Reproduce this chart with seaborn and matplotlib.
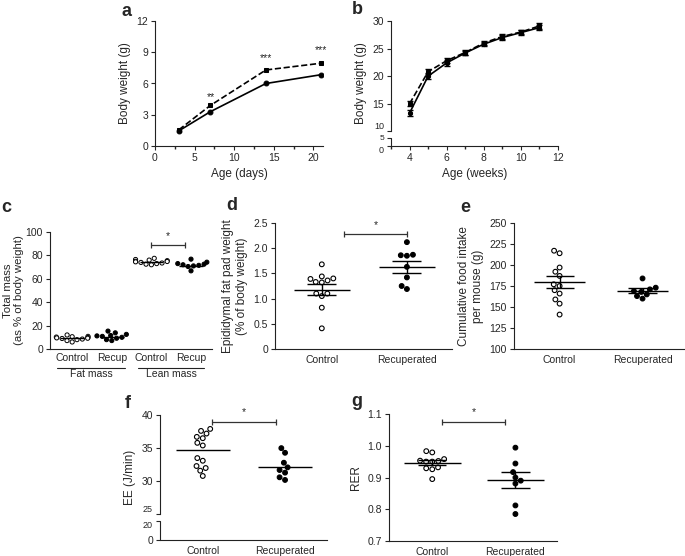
#!/usr/bin/env python3
import matplotlib
matplotlib.use("Agg")
import matplotlib.pyplot as plt
import numpy as np
import pandas as pd
import seaborn as sns
from matplotlib.ticker import FixedLocator, MultipleLocator

# ---- data ----
a_days = [3, 7, 14, 21]
a_control = [1.45, 3.3, 6.0, 6.85]
a_recup = [1.55, 3.9, 7.3, 7.95]

b_weeks = [4, 5, 6, 7, 8, 9, 10, 11]
b_control = [13.3, 20.0, 22.4, 24.2, 25.8, 27.0, 27.9, 28.8]
b_control_sem = [0.5, 0.5, 0.5, 0.4, 0.4, 0.4, 0.4, 0.5]
b_recup = [15.0, 20.8, 22.8, 24.3, 26.0, 27.2, 28.0, 29.1]
b_recup_sem = [0.5, 0.5, 0.5, 0.4, 0.4, 0.4, 0.4, 0.6]

c_groups = ["Fat Control", "Fat Recup", "Lean Control", "Lean Recup"]
c_ticklabels = ["Control", "Recup", "Control", "Recup"]
c_fat_control = [12.0, 10.8, 10.5, 10.2, 9.8, 9.5, 9.2, 9.0, 8.5, 8.0, 7.2, 6.0]
c_fat_recup = [15.3, 13.8, 12.5, 11.5, 11.2, 10.8, 10.0, 9.2, 8.0, 7.2]
c_lean_control = [77.5, 76.5, 76.0, 75.5, 75.0, 74.8, 74.5, 74.0, 73.5, 73.0, 72.5, 72.0]
c_lean_recup = [76.8, 74.2, 73.0, 72.5, 72.0, 71.5, 71.0, 70.5, 66.8]
c_means = [9.1, 10.5, 74.1, 71.2]

groups = ["Control", "Recuperated"]

d_control = [1.68, 1.44, 1.39, 1.40, 1.36, 1.33, 1.32, 1.10, 1.10, 1.05, 0.82, 0.41]
d_recup = [2.12, 1.86, 1.85, 1.87, 1.63, 1.42, 1.25, 1.19]
d_means = [1.18, 1.63]
d_sems = [0.105, 0.12]

e_control = [217, 214, 197, 192, 187, 177, 175, 170, 166, 159, 154, 141]
e_recup = [184, 173, 171, 169, 168, 165, 163, 160]
e_means = [179.5, 169.5]
e_sems = [7.3, 3.0]

f_control = [37.9, 37.6, 37.2, 36.7, 36.5, 35.8, 35.4, 33.5, 33.1, 32.3, 32.0, 31.6, 30.8]
f_recup = [35.0, 34.3, 32.8, 32.1, 31.7, 31.3, 30.6, 30.2]
f_means = [34.7, 32.2]

g_control = [0.983, 0.979, 0.958, 0.952, 0.950, 0.950, 0.953, 0.929, 0.926, 0.932, 0.895]
g_recup = [0.994, 0.944, 0.917, 0.900, 0.890, 0.881, 0.812, 0.785]
g_means = [0.947, 0.891]
g_sems = [0.008, 0.025]

# ---- style ----
sns.set_theme(style="ticks")
plt.rcParams["font.family"] = ["Liberation Sans", "DejaVu Sans"]
plt.rcParams.update({
    "axes.linewidth": 0.8,
    "axes.edgecolor": "#222222",
    "xtick.major.size": 3,
    "ytick.major.size": 3,
    "xtick.minor.size": 2,
    "xtick.major.width": 0.8,
    "ytick.major.width": 0.8,
    "xtick.labelsize": 7.5,
    "ytick.labelsize": 7.5,
    "axes.labelsize": 8.5,
    "xtick.major.pad": 2,
    "ytick.major.pad": 2,
})

W, H = 685, 556
fig = plt.figure(figsize=(W / 100, H / 100), dpi=100)


def add_axes(left, top, right, bottom):
    ax = fig.add_axes([left / W, 1 - bottom / H, (right - left) / W, (bottom - top) / H])
    sns.despine(ax=ax)
    return ax


def broken_scale(xs, ys):
    xs = np.asarray(xs, float)
    ys = np.asarray(ys, float)
    return (lambda v: np.interp(v, xs, ys), lambda v: np.interp(v, ys, xs))


def letter(s, x, y):
    fig.text(x / W, 1 - y / H, s, fontsize=13, fontweight="bold", ha="left", va="center")


def sig_bar(ax, x1, x2, y, star_y):
    ax.plot([x1, x2], [y, y], color="#333333", lw=0.9, marker="|", ms=4, mew=0.9, clip_on=False)
    ax.text((x1 + x2) / 2, star_y, "*", ha="center", va="center", fontsize=7.5)


def scatter_panel(ax, ctrl, recup, size=3.4):
    df = pd.DataFrame({
        "group": ["Control"] * len(ctrl) + ["Recuperated"] * len(recup),
        "value": list(ctrl) + list(recup),
    })
    sns.swarmplot(data=df, x="group", y="value", hue="group", order=groups,
                  palette={"Control": "white", "Recuperated": "black"},
                  edgecolor="black", linewidth=0.8, size=size, legend=False, ax=ax, zorder=3)


def mean_sem(ax, means, sems=None, half=0.33, cap=0.17):
    x = np.arange(len(means))
    ax.hlines(means, x - half, x + half, color="black", lw=1.0, zorder=4)
    if sems is not None:
        lo = np.array(means) - np.array(sems)
        hi = np.array(means) + np.array(sems)
        ax.hlines(lo, x - cap, x + cap, color="black", lw=1.0, zorder=4)
        ax.hlines(hi, x - cap, x + cap, color="black", lw=1.0, zorder=4)
        ax.vlines(x, lo, hi, color="black", lw=1.0, zorder=4)


def squeeze_labels(ax, upper, lower, middle=()):
    # broken axis: the labels either side of the break sit tight together
    for lab, tick in zip(ax.get_yticklabels(), ax.get_yticks()):
        if tick == upper:
            lab.set_fontsize(6.5)
            lab.set_verticalalignment("bottom")
        elif tick == lower:
            lab.set_fontsize(6.5)
            lab.set_verticalalignment("top")
        elif tick in middle:
            lab.set_fontsize(6)


# ---- a ----
ax = add_axes(155, 21, 323, 146)
sns.lineplot(x=a_days, y=a_control, color="black", lw=1.2, marker="o", ms=3.5, mec="black", ax=ax)
sns.lineplot(x=a_days, y=a_recup, color="black", lw=1.2, marker="s", ms=3.5, mec="black",
             linestyle="--", ax=ax)
for d, s, yc in [(7, "**", 4.7), (14, "***", 8.45), (21, "***", 9.2)]:
    ax.text(d, yc, s, ha="center", va="center", fontsize=7.5)
ax.set_xlim(0, 21.2)
ax.set_ylim(0, 12)
ax.set_yticks([0, 3, 6, 9, 12])
ax.set_xticks([0, 5, 10, 15, 20])
ax.xaxis.set_minor_locator(MultipleLocator(2.5))
ax.set_xlabel("Age (days)")
ax.set_ylabel("Body weight (g)")
letter("a", 122, 11)

# ---- b ----
ax = add_axes(391, 21, 558, 146)
fwd, inv = broken_scale([-100, 0, 5, 10, 1000], [7.33 - 30, 7.33, 8.82, 10, 1000])
ax.set_yscale("function", functions=(fwd, inv))
sns.lineplot(x=b_weeks, y=b_control, color="black", lw=1.2, marker="o", ms=3, mec="black", ax=ax)
sns.lineplot(x=b_weeks, y=b_recup, color="black", lw=1.2, marker="s", ms=3, mec="black",
             linestyle="--", ax=ax)
ax.errorbar(b_weeks, b_control, yerr=b_control_sem, fmt="none", ecolor="black", elinewidth=0.8, capsize=2)
ax.errorbar(b_weeks, b_recup, yerr=b_recup_sem, fmt="none", ecolor="black", elinewidth=0.8, capsize=2)
ax.set_xlim(3, 12)
ax.set_ylim(0, 30)
ax.yaxis.set_major_locator(FixedLocator([0, 5, 10, 15, 20, 25, 30]))
ax.yaxis.set_minor_locator(FixedLocator([]))
ax.set_xticks([4, 6, 8, 10, 12])
ax.xaxis.set_minor_locator(MultipleLocator(1))
ax.spines["left"].set_bounds(10, 30)
ax.plot([0, 0], [0, 5], color="#222222", lw=0.8, transform=ax.get_yaxis_transform(), clip_on=False)
squeeze_labels(ax, 10, 0, middle=[5])
ax.set_xlabel("Age (weeks)")
ax.set_ylabel("Body weight (g)")
letter("b", 352, 9)

# ---- c ----
ax = add_axes(50, 232, 212, 349)
c_df = pd.DataFrame({
    "group": [c_groups[0]] * len(c_fat_control) + [c_groups[1]] * len(c_fat_recup)
    + [c_groups[2]] * len(c_lean_control) + [c_groups[3]] * len(c_lean_recup),
    "value": c_fat_control + c_fat_recup + c_lean_control + c_lean_recup,
})
c_df["kind"] = np.where(c_df["group"].str.contains("Control"), "Control", "Recup")
sns.swarmplot(data=c_df, x="group", y="value", hue="kind", order=c_groups,
              palette={"Control": "white", "Recup": "black"}, edgecolor="black",
              linewidth=0.7, size=3.0, legend=False, ax=ax, zorder=3)
mean_sem(ax, c_means, half=0.3)
sig_bar(ax, 2.0, 2.85, 89, 96.5)
ax.set_xlim(-0.56, 3.53)
ax.set_ylim(0, 100)
ax.set_yticks([0, 20, 40, 60, 80, 100])
ax.set_xticks(range(4))
ax.set_xticklabels(c_ticklabels)
ax.tick_params(axis="x", length=0, pad=3)
ax.set_xlabel("")
ax.set_ylabel("Total mass\n(as % of body weight)", labelpad=1, fontsize=8.2)
tr = ax.get_xaxis_transform()
for x1, x2, name in [(-0.38, 1.34, "Fat mass"), (1.65, 3.34, "Lean mass")]:
    ax.plot([x1, x2], [-0.16, -0.16], color="#222222", lw=0.8, transform=tr, clip_on=False)
    ax.text((x1 + x2) / 2, -0.175, name, transform=tr, ha="center", va="top", fontsize=7.5)
letter("c", 1, 207)

# ---- d ----
ax = add_axes(275, 223, 452, 349)
scatter_panel(ax, d_control, d_recup)
mean_sem(ax, d_means, d_sems)
sig_bar(ax, 0.26, 1.0, 2.28, 2.45)
ax.set_xlim(-0.55, 1.53)
ax.set_ylim(0, 2.5)
ax.set_yticks([0, 0.5, 1.0, 1.5, 2.0, 2.5])
ax.set_yticklabels(["0", "0.5", "1.0", "1.5", "2.0", "2.5"])
ax.tick_params(axis="x", length=0, pad=4)
ax.set_xlabel("")
ax.set_ylabel("Epididymal fat pad weight\n(% of body weight)")
letter("d", 226, 206)

# ---- e ----
ax = add_axes(514, 223, 684, 349)
scatter_panel(ax, e_control, e_recup)
mean_sem(ax, e_means, e_sems, half=0.31)
ax.set_xlim(-0.55, 1.5)
ax.set_ylim(100, 250)
ax.set_yticks([100, 125, 150, 175, 200, 225, 250])
ax.tick_params(axis="x", length=0, pad=4)
ax.set_xlabel("")
ax.set_ylabel("Cumulative food intake\nper mouse (g)")
letter("e", 460, 208)

# ---- f ----
ax = add_axes(160, 415, 327, 540)
fwd, inv = broken_scale([-100, 0, 20, 25, 1000], [21.14 - 14.6, 21.14, 24.06, 25, 1000])
ax.set_yscale("function", functions=(fwd, inv))
scatter_panel(ax, f_control, f_recup)
mean_sem(ax, f_means)
sig_bar(ax, 0.11, 0.89, 39.0, 40.5)
ax.set_xlim(-0.52, 1.51)
ax.set_ylim(0, 40)
ax.yaxis.set_major_locator(FixedLocator([0, 20, 25, 30, 35, 40]))
ax.yaxis.set_minor_locator(FixedLocator([]))
ax.spines["left"].set_bounds(25, 40)
ax.plot([0, 0], [0, 20], color="#222222", lw=0.8, transform=ax.get_yaxis_transform(), clip_on=False)
squeeze_labels(ax, 25, 20)
ax.tick_params(axis="x", length=0, pad=4)
ax.set_xlabel("")
ax.set_ylabel("EE (J/min)")
letter("f", 125, 403)

# ---- g ----
ax = add_axes(389, 414, 557, 541)
scatter_panel(ax, g_control, g_recup)
mean_sem(ax, g_means, g_sems, half=0.34)
sig_bar(ax, 0.12, 0.88, 1.075, 1.105)
ax.set_xlim(-0.52, 1.5)
ax.set_ylim(0.7, 1.1)
ax.set_yticks([0.7, 0.8, 0.9, 1.0, 1.1])
ax.set_yticklabels(["0.7", "0.8", "0.9", "1.0", "1.1"])
ax.tick_params(axis="x", length=0, pad=4)
ax.set_xlabel("")
ax.set_ylabel("RER")
letter("g", 351, 401)

fig.savefig("out.png", dpi=100)
